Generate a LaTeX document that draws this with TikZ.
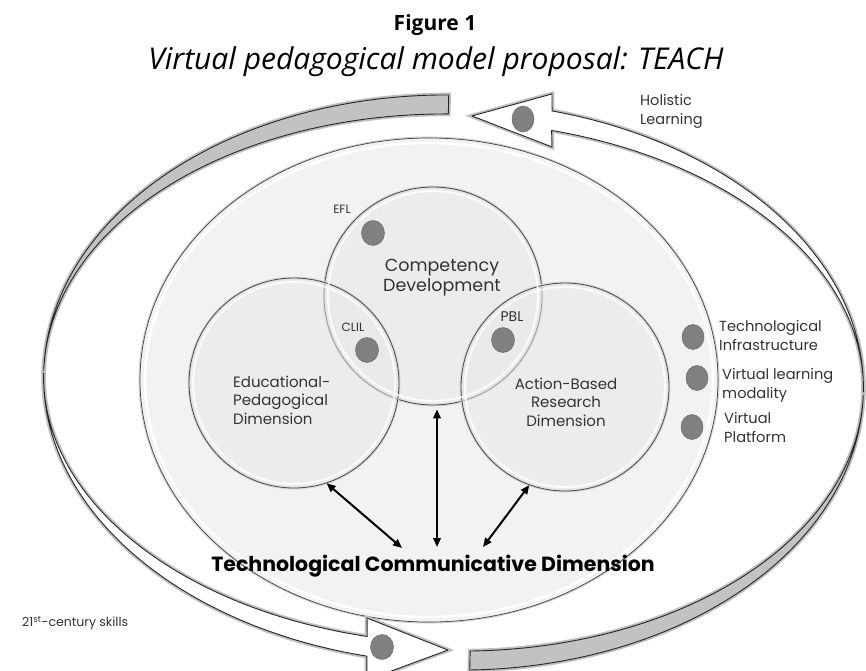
\documentclass[tikz,border=0pt]{standalone}
\usepackage{fontspec}
\setmainfont{Open Sans}
\newfontfamily\dfont{Poppins}
\usetikzlibrary{arrows.meta,shapes.geometric}
\begin{document}
\begin{tikzpicture}[x=1pt,y=-1pt,
  band/.style={draw=black!85, line width=0.9pt, line join=round, preaction={draw=black!25, line width=4.5pt}},
  grayband/.style={band, fill=black!24},
  whitearrow/.style={band, fill=white},
  dot/.style={ellipse, fill=black!50, draw=black!58, line width=0.5pt, inner sep=0pt, minimum width=23pt, minimum height=25pt},
  venn/.style={circle, draw=black!72, line width=0.8pt, fill=black!9, fill opacity=0.5, inner sep=0pt, preaction={draw=black!15, line width=3pt}},
  rim/.style={draw=white, line width=2pt, opacity=0.8},
  lbl/.style={font=\dfont\fontsize{15}{18.5}\selectfont, text=black!80, inner sep=0pt},
  side/.style={lbl, font=\dfont\fontsize{14.6}{19}\selectfont, align=left, anchor=west},
  small/.style={font=\dfont\fontsize{12}{14}\selectfont, text=black!80, inner sep=0pt},
  link/.style={line width=2pt, {Triangle[length=9pt,width=7.5pt]}-{Triangle[length=9pt,width=7.5pt]}}
]
\useasboundingbox (0,0) rectangle (866,670);
\clip (0,0) rectangle (866,670);
\fill[white] (0,0) rectangle (866,670);

% title
\node[font=\bfseries\fontsize{21}{24}\selectfont, inner sep=0pt] (fig) at (435,25) {Figure 1};
\node[font=\itshape\fontsize{30}{34}\selectfont, inner sep=0pt] (sub) at (436,62) {Virtual pedagogical model proposal: TEACH};

% inner disk
\draw[fill=black!5, draw=black!75, line width=0.7pt, preaction={draw=black!18, line width=3pt}] (429,380) ellipse [x radius=289pt, y radius=242pt];
\draw[white, line width=2.5pt] (429,380) ellipse [x radius=284pt, y radius=237pt];

% outer ring of arrows
\begin{scope}[shift={(453.5,382.5)}, y=1pt, rotate=-1.33]
  \draw[grayband] plot[domain=91.6:180,samples=90] ({410*cos(\x)},{287.5*sin(\x)}) -- plot[domain=180:91.6,samples=90] ({410*cos(\x)},{268.5*sin(\x)}) -- cycle;
  \draw[grayband] plot[domain=273.2:360,samples=90] ({410*cos(\x)},{287.5*sin(\x)}) -- plot[domain=360:273.2,samples=90] ({410*cos(\x)},{268.5*sin(\x)}) -- cycle;
  \draw[whitearrow] plot[domain=0:77,samples=90] ({410*cos(\x)},{281*sin(\x)}) -- (91.8,290.8) -- (12.3,266.9) -- (93,237.8) -- plot[domain=77:0,samples=90] ({410*cos(\x)},{261*sin(\x)}) -- cycle;
  \draw[whitearrow] plot[domain=180:258.7,samples=90] ({410*cos(\x)},{281*sin(\x)}) -- (-79.6,-299.5) -- (0.7,-267.6) -- (-81,-237.5) -- plot[domain=258.7:180,samples=90] ({410*cos(\x)},{261*sin(\x)}) -- cycle;
\end{scope}
\node[dot, minimum width=22pt, minimum height=26pt] (dhol) at (523,119) {};
\node[dot] (dskill) at (382,647) {};

% venn circles
\node[venn, minimum size=218pt] (cd) at (433,296) {};
\node[venn, minimum size=210pt] (ep) at (294,383) {};
\node[venn, minimum size=208pt] (ab) at (565,387) {};
\draw[rim] (433,296) circle [radius=105pt];
\draw[rim] (294,383) circle [radius=101pt];
\draw[rim] (565,387) circle [radius=100pt];

% dots inside
\node[dot] (defl) at (373,233) {};
\node[dot] (dclil) at (367,350) {};
\node[dot] (dpbl) at (503,340) {};
\node[dot, minimum width=22pt] (dti) at (693,337) {};
\node[dot, minimum width=22pt] (dvl) at (697,378) {};
\node[dot, minimum width=22pt] (dvp) at (692,427) {};

% labels
\node[small] (lefl) at (342,209) {EFL};
\node[small] (lclil) at (353,327) {CLIL};
\node[small, font=\dfont\fontsize{14}{16}\selectfont] (lpbl) at (512,317) {PBL};
\node[lbl, font=\dfont\fontsize{17.5}{20}\selectfont, align=center] (lcd) at (442,278) {Competency\\Development};
\node[lbl, align=left, anchor=west] (lep) at (233,400) {Educational-\\Pedagogical\\Dimension};
\node[lbl, align=center] (lab) at (566,402) {Action-Based\\Research\\Dimension};
\node[side] (lti) at (719,336) {Technological\\Infrastructure};
\node[side] (lvl) at (722,385) {Virtual learning\\modality};
\node[side] (lvp) at (724,427.5) {Virtual\\Platform};
\node[side, font=\dfont\fontsize{14.5}{19}\selectfont] (lhol) at (640,111) {Holistic\\Learning};
\node[small, font=\dfont\fontsize{12.5}{14}\selectfont, anchor=west] (lskill) at (22,623) {21\textsuperscript{st}-century skills};
\node[font=\dfont\bfseries\fontsize{20.5}{24}\selectfont, inner sep=0pt] (tcd) at (433,566) {Technological Communicative Dimension};

% connectors
\coordinate (tl) at (402,548);
\coordinate (tm) at (437,547);
\coordinate (tr) at (483,547);
\coordinate (cds) at ([shift={(4,4)}]cd.south);
\draw[link] (ep.-72) -- (tl);
\draw[link] (cds) -- (tm);
\draw[link] (ab.-110) -- (tr);
\end{tikzpicture}
\end{document}
